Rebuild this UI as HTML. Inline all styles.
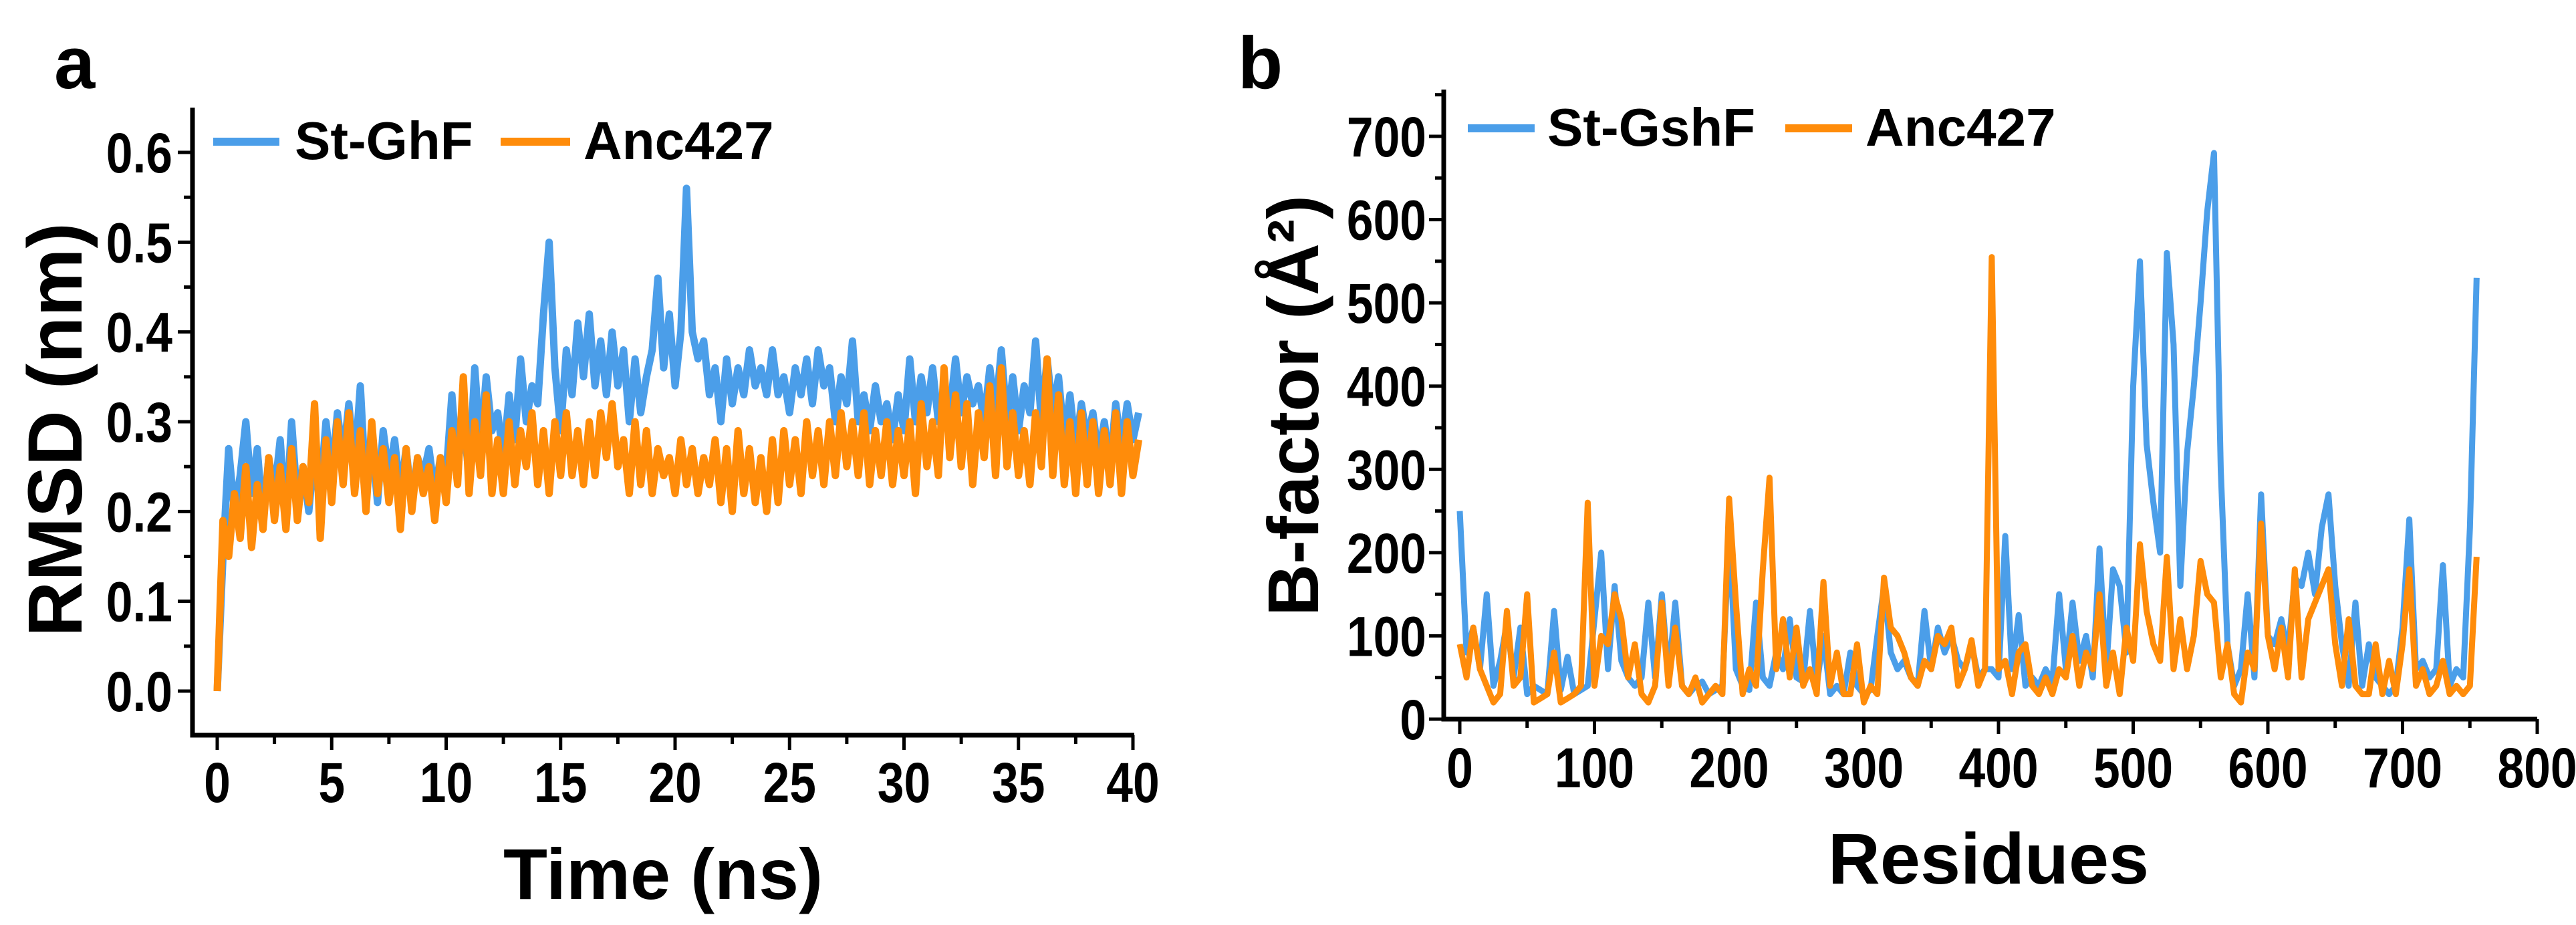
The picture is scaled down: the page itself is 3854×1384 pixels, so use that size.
<!DOCTYPE html>
<html><head><meta charset="utf-8"><style>
html,body{margin:0;padding:0;background:#fff;}
svg{display:block;font-family:"Liberation Sans",sans-serif;font-weight:bold;}
</style></head><body>
<svg id="fig" width="3854" height="1384" viewBox="0 0 3854 1384"></svg>
<script>
// Panel a data (RMSD, step 0.25 ns)
const rmsdStep = 0.25;
const rmsdBlue = [0.0,0.15,0.27,0.20,0.24,0.30,0.22,0.27,0.19,
0.26,0.22,0.28,0.19,0.30,0.21,0.25,0.20,
0.27,0.22,0.30,0.24,0.31,0.26,0.32,0.25,
0.34,0.22,0.28,0.21,0.29,0.24,0.28,0.22,
0.27,0.21,0.26,0.24,0.27,0.22,0.26,0.24,
0.33,0.25,0.30,0.24,0.36,0.27,0.35,0.29,
0.31,0.26,0.33,0.28,0.37,0.30,0.34,0.32,
0.42,0.50,0.36,0.29,0.38,0.33,0.41,0.35,
0.42,0.34,0.39,0.33,0.40,0.34,0.38,0.30,
0.37,0.31,0.35,0.38,0.46,0.36,0.42,0.34,
0.40,0.56,0.40,0.37,0.39,0.33,0.36,0.30,
0.37,0.32,0.36,0.33,0.38,0.34,0.36,0.33,
0.38,0.33,0.35,0.31,0.36,0.33,0.37,0.32,
0.38,0.34,0.36,0.30,0.35,0.32,0.39,0.30,
0.33,0.29,0.34,0.30,0.32,0.28,0.33,0.29,
0.37,0.30,0.35,0.31,0.36,0.30,0.34,0.31,
0.37,0.31,0.35,0.32,0.34,0.30,0.36,0.31,
0.38,0.30,0.35,0.29,0.34,0.31,0.39,0.30,
0.37,0.31,0.35,0.28,0.33,0.27,0.32,0.28,
0.31,0.26,0.30,0.25,0.32,0.27,0.32,0.28,0.31];
const rmsdOrange = [0.0,0.19,0.15,0.22,0.17,0.25,0.16,0.23,0.18,
0.26,0.19,0.25,0.18,0.27,0.19,0.25,0.21,
0.32,0.17,0.28,0.21,0.30,0.23,0.31,0.22,
0.29,0.20,0.30,0.22,0.27,0.21,0.26,0.18,
0.27,0.20,0.26,0.22,0.25,0.19,0.26,0.21,
0.29,0.23,0.35,0.22,0.30,0.24,0.33,0.22,
0.28,0.22,0.30,0.23,0.29,0.25,0.31,0.23,
0.29,0.22,0.30,0.24,0.31,0.24,0.29,0.23,
0.30,0.24,0.31,0.26,0.32,0.25,0.28,0.22,
0.30,0.23,0.29,0.22,0.27,0.24,0.26,0.22,
0.28,0.23,0.27,0.22,0.26,0.23,0.28,0.21,
0.27,0.20,0.29,0.22,0.27,0.21,0.26,0.20,
0.28,0.21,0.29,0.23,0.28,0.22,0.30,0.24,
0.29,0.23,0.30,0.24,0.31,0.25,0.30,0.24,
0.31,0.23,0.29,0.24,0.30,0.23,0.29,0.24,
0.30,0.22,0.32,0.25,0.30,0.24,0.36,0.26,
0.33,0.25,0.32,0.23,0.31,0.26,0.34,0.24,
0.36,0.25,0.31,0.24,0.29,0.23,0.31,0.25,
0.37,0.24,0.33,0.23,0.30,0.22,0.31,0.23,
0.30,0.22,0.29,0.23,0.31,0.22,0.30,0.24,0.28];
const rmsdXTicks = [0,5,10,15,20,25,30,35,40];
const rmsdYTicks = [0.0,0.1,0.2,0.3,0.4,0.5,0.6];
// Panel b data (B-factor, step 5 residues)
const bStep = 5;
const bBlue = [250,80,110,60,150,40,70,115,50,110,
30,40,35,30,130,35,75,30,35,40,
120,200,60,160,70,50,40,50,140,50,
150,50,140,40,30,40,45,30,35,40,
225,60,40,35,140,50,40,80,60,120,
50,45,130,40,100,30,40,30,80,40,
30,35,100,160,80,60,70,50,40,130,
60,110,80,100,70,60,90,50,60,60,
50,220,60,125,40,50,40,60,45,150,
60,140,70,100,50,205,60,180,160,80,
400,550,330,260,200,560,450,160,320,400,
500,610,680,300,90,40,60,150,50,270,
100,90,120,80,170,160,200,150,230,270,
160,90,40,140,40,90,50,40,30,40,
110,240,60,70,50,60,185,40,60,50,
230,530];
const bOrange = [90,50,110,60,40,20,30,130,40,50,
150,20,25,30,80,20,25,30,40,260,
40,100,90,150,120,50,90,30,20,40,
140,40,110,40,30,50,20,30,40,30,
265,140,30,60,40,180,290,60,120,50,
110,40,60,30,165,40,80,30,30,90,
20,40,30,170,110,100,80,50,40,70,
60,100,90,110,40,60,95,40,60,555,
60,70,30,80,90,40,30,50,30,60,
50,100,40,80,60,150,40,80,30,110,
70,210,130,90,70,195,60,120,60,100,
190,150,140,50,90,30,20,80,60,235,
100,60,110,50,180,50,120,140,160,180,
90,40,120,40,30,30,90,30,70,30,
90,180,40,60,30,40,70,30,40,30,
40,195];
const bXTicks = [0,100,200,300,400,500,600,700,800];
const bYTicks = [0,100,200,300,400,500,600,700];

const NS='http://www.w3.org/2000/svg';
const svg=document.getElementById('fig');
function mk(tag,attrs,parent,text){const e=document.createElementNS(NS,tag);for(const k in attrs)e.setAttribute(k,attrs[k]);if(text!==undefined)e.textContent=text;(parent||svg).appendChild(e);return e;}
const BLUE='#4b9ee9', ORANGE='#ff8c0a';

function panel(o){
  const g=mk('g',{});
  
  
  const sx=v=>o.x0+(v-o.xmin)/(o.xmax-o.xmin)*(o.x1-o.x0);
  const sy=v=>o.y0-(v-o.ymin)/(o.ymax-o.ymin)*(o.y0-o.y1);
  o.series.forEach(s=>{
    let d='';
    s.vals.forEach((v,i)=>{d+=(i?'L':'M')+sx(i*o.step).toFixed(1)+' '+sy(v).toFixed(1);});
    const p=mk('path',{d:d,fill:'none',stroke:s.color,'stroke-width':o.lw,'stroke-linejoin':'round'},g);
    
    
  });
  const ax=mk('path',{d:`M${o.axL} ${o.axT}V${o.axB}H${o.axR}`,fill:'none',stroke:'#000','stroke-width':7},g);
  
  
  o.xt.forEach((t,i)=>{
    const x=sx(t);
    mk('line',{x1:x,x2:x,y1:o.axB,y2:o.axB+22,stroke:'#000','stroke-width':5},g);
    if(i<o.xt.length-1){const xm=sx(t+(o.xt[1]-o.xt[0])/2);mk('line',{x1:xm,x2:xm,y1:o.axB,y2:o.axB+13,stroke:'#000','stroke-width':5},g);}
    const tl=mk('text',{x:x,y:o.xlabY,'text-anchor':'middle','font-size':o.tfs,transform:`translate(${x} 0) scale(0.85 1) translate(${-x} 0)`},g,String(t));
    
    
  });
  o.yt.forEach((t,i)=>{
    const y=sy(t);
    mk('line',{x1:o.axL-22,x2:o.axL,y1:y,y2:y,stroke:'#000','stroke-width':5},g);
    const ym=sy(t+(o.yt[1]-o.yt[0])/2);
    if(ym>o.axT) mk('line',{x1:o.axL-13,x2:o.axL,y1:ym,y2:ym,stroke:'#000','stroke-width':5},g);
    if(i===0){const yb=sy(t-(o.yt[1]-o.yt[0])/2); if(yb<o.axB) mk('line',{x1:o.axL-13,x2:o.axL,y1:yb,y2:yb,stroke:'#000','stroke-width':5},g);}
    const tl=mk('text',{x:o.ylabX,y:y+30,'text-anchor':'end','font-size':o.tfs,transform:`translate(${o.ylabX} 0) scale(0.85 1) translate(${-o.ylabX} 0)`},g,o.yfmt(t));
    
    
  });
  return g;
}

panel({name:'rmsd-chart',x0:325,x1:1695,xmin:0,xmax:40,y0:1034,y1:228,ymin:0,ymax:0.6,
  axL:288,axR:1697,axT:161,axB:1100,step:rmsdStep,lw:11,tfs:84,xlabY:1200,ylabX:258,
  xt:rmsdXTicks,yt:rmsdYTicks,yfmt:t=>t.toFixed(1),
  series:[{vals:rmsdBlue,color:BLUE,name:'st-ghf-line'},{vals:rmsdOrange,color:ORANGE,name:'anc427-line'}]});
panel({name:'bfactor-chart',x0:2184,x1:3796,xmin:0,xmax:800,y0:1076,y1:204,ymin:0,ymax:700,
  axL:2160,axR:3796,axT:134,axB:1076,step:bStep,lw:9,tfs:84,xlabY:1178,ylabX:2134,
  xt:bXTicks,yt:bYTicks,yfmt:t=>String(t),
  series:[{vals:bBlue,color:BLUE,name:'st-gshf-line'},{vals:bOrange,color:ORANGE,name:'anc427-line-b'}]});

function txt(attrs,str,name){const t=mk('text',attrs,svg,str);return t;}
function legLine(x1,x2,y,c,name){const l=mk('line',{x1:x1,x2:x2,y1:y,y2:y,stroke:c,'stroke-width':12});}
txt({x:81,y:132,'font-size':110},'a','panel-label-a');
legLine(319,418,212,BLUE,'legend-swatch-st-ghf');
txt({x:441,y:238,'font-size':80},'St-GhF','legend-label-st-ghf');
legLine(749,853,212,ORANGE,'legend-swatch-anc427');
txt({x:873,y:238,'font-size':80},'Anc427','legend-label-anc427');
txt({x:992,y:1345,'font-size':108,'text-anchor':'middle'},'Time (ns)','x-axis-title-a');
txt({x:0,y:0,'font-size':115,'text-anchor':'middle',transform:'translate(122,643) rotate(-90)'},'RMSD (nm)','y-axis-title-a');
txt({x:1852,y:132,'font-size':110},'b','panel-label-b');
legLine(2196,2296,192,BLUE,'legend-swatch-st-gshf');
txt({x:2315,y:218,'font-size':80},'St-GshF','legend-label-st-gshf');
legLine(2671,2771,192,ORANGE,'legend-swatch-anc427-b');
txt({x:2791,y:218,'font-size':80},'Anc427','legend-label-anc427-b');
txt({x:2975,y:1322,'font-size':108,'text-anchor':'middle'},'Residues','x-axis-title-b');
txt({x:0,y:0,'font-size':108,'text-anchor':'middle',transform:'translate(1972,607) rotate(-90)'},'B-factor (Å²)','y-axis-title-b');
</script>
</body></html>
